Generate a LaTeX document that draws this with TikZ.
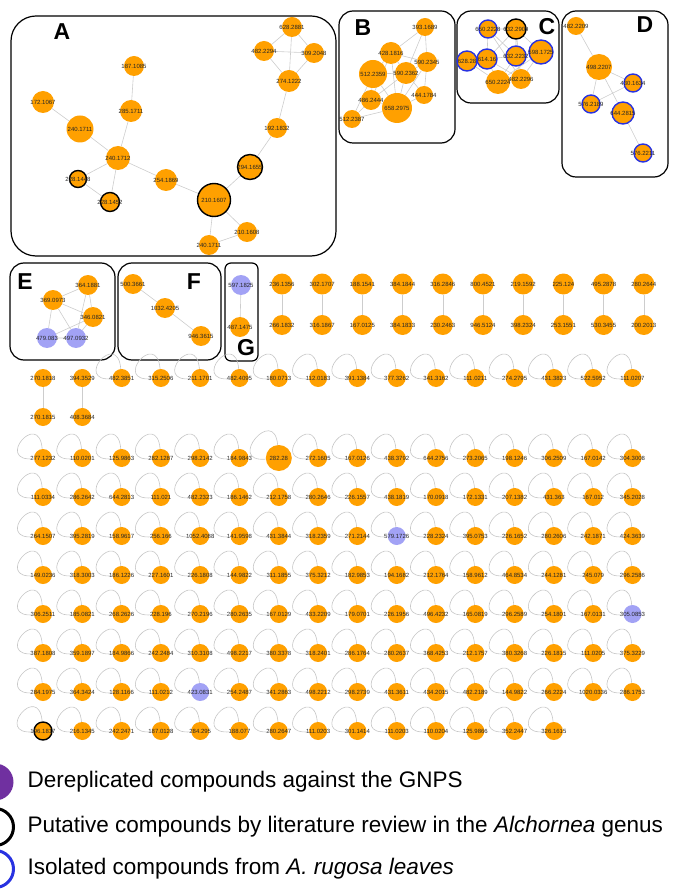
\documentclass[tikz,border=0pt]{standalone}
\usepackage{fontspec}
\setmainfont{Liberation Sans}
\usetikzlibrary{backgrounds}
\definecolor{cmpOrange}{RGB}{255,160,0}
\definecolor{gnpsLav}{RGB}{162,162,245}
\definecolor{isoBlue}{RGB}{40,50,225}
\definecolor{legPurple}{RGB}{112,48,160}
\definecolor{edgeGray}{RGB}{205,205,205}
\newcommand{\mz}[1]{\makebox[0pt]{#1}}

\begin{document}
\begin{tikzpicture}[x=1pt,y=-1pt,
  cmp/.style={circle,fill=cmpOrange,inner sep=0pt,minimum size=18pt,
    text=black!85,font=\fontsize{6}{7}\selectfont},
  bigcmp/.style={cmp,minimum size=26pt},
  gnps/.style={cmp,fill=gnpsLav},
  lit/.style={cmp,draw=black,line width=1.4pt},
  iso/.style={cmp,draw=isoBlue,line width=1.4pt},
  edge/.style={draw=edgeGray,line width=0.6pt},
  selfloop/.style={draw=gray!45,line width=0.6pt,out=95,in=185,distance=40pt},
  panel/.style={draw=black,line width=1.2pt,rounded corners=14pt},
  letter/.style={font=\fontsize{23}{27}\selectfont\bfseries},
  legtext/.style={anchor=west,font=\fontsize{22.5}{27}\selectfont},
  legdot/.style={circle,inner sep=0pt,minimum size=37pt}
]
\useasboundingbox (0,0) rectangle (677,890);

% ---- panel frames ----
\draw[panel,rounded corners=25pt] (11,16) rectangle (336,256);
\draw[panel] (339,11) rectangle (455,143);
\draw[panel] (457,11) rectangle (559,103);
\draw[panel] (562,11) rectangle (668,177);
\draw[panel] (10,263) rectangle (115,360);
\draw[panel] (118,263) rectangle (221,360);
\draw[panel,rounded corners=6pt] (225,263) rectangle (258,361);
\node[letter] (lA) at (62,32)  {A};
\node[letter] (lB) at (363,28) {B};
\node[letter] (lC) at (547,27) {C};
\node[letter] (lD) at (645,25) {D};
\node[letter] (lE) at (25,282) {E};
\node[letter] (lF) at (194,282) {F};
\node[letter] (lG) at (246,348) {G};

% ---- A ----
\node[cmp,minimum size=20pt] (a1)  at (292,27)  {\mz{628.2881}};
\node[cmp,minimum size=20pt] (a2)  at (264,51)  {\mz{482.2294}};
\node[cmp,minimum size=20pt] (a3)  at (314,53)  {\mz{309.2048}};
\node[cmp,minimum size=22pt] (a4)  at (289,81)  {\mz{274.1222}};
\node[cmp,minimum size=20pt] (a5)  at (277,128) {\mz{192.1832}};
\node[lit,minimum size=25pt] (a6)  at (250,167) {\mz{294.1655}};
\node[lit,minimum size=33pt] (a7)  at (214,200) {\mz{210.1607}};
\node[cmp,minimum size=20pt] (a8)  at (247,232) {\mz{210.1608}};
\node[cmp,minimum size=20pt] (a9)  at (209,245) {\mz{240.1711}};
\node[cmp,minimum size=22pt] (a10) at (166,180) {\mz{254.1869}};
\node[cmp,minimum size=24pt] (a11) at (118,158) {\mz{240.1712}};
\node[cmp,minimum size=22pt] (a12) at (131,111) {\mz{285.1711}};
\node[cmp,minimum size=20pt] (a13) at (134,66)  {\mz{187.1085}};
\node[cmp,minimum size=22pt] (a14) at (43,102)  {\mz{172.1067}};
\node[cmp,minimum size=27pt] (a15) at (80,129)  {\mz{240.1711}};
\node[lit,minimum size=17pt] (a16) at (78,179)  {\mz{228.1448}};
\node[lit,minimum size=19pt] (a17) at (110,202) {\mz{228.1452}};

% ---- B ----
\node[cmp]                   (b1) at (425,27)  {\mz{393.1689}};
\node[cmp,minimum size=22pt] (b2) at (391,53)  {\mz{428.1816}};
\node[cmp,minimum size=20pt] (b3) at (427,62)  {\mz{590.2345}};
\node[cmp,minimum size=28pt] (b4) at (373,74)  {\mz{512.2359}};
\node[cmp,minimum size=22pt] (b5) at (406,73)  {\mz{590.2362}};
\node[cmp]                   (b6) at (424,95)  {\mz{444.1784}};
\node[cmp,minimum size=20pt] (b7) at (371,100) {\mz{486.2444}};
\node[cmp,minimum size=30pt] (b8) at (397,108) {\mz{658.2975}};
\node[cmp]                   (b9) at (352,119) {\mz{512.2387}};

% ---- C ----
\node[iso]                   (c1) at (488,29) {\mz{650.2228}};
\node[lit,minimum size=20pt] (c2) at (516,29) {\mz{632.2909}};
\node[iso,minimum size=20pt] (c3) at (467,61) {\mz{628.28}};
\node[iso,minimum size=20pt] (c4) at (487,59) {\mz{614.16}};
\node[iso,minimum size=20pt] (c5) at (516,56) {\mz{632.2232}};
\node[iso,minimum size=24pt] (c6) at (541,52) {\mz{598.1725}};
\node[cmp,minimum size=24pt] (c7) at (498,82) {\mz{650.2224}};
\node[cmp,minimum size=20pt] (c8) at (521,79) {\mz{482.2296}};

% ---- D ----
\node[cmp]                   (d1) at (576,26)  {\mz{482.2209}};
\node[cmp,minimum size=26pt] (d2) at (599,67)  {\mz{498.2207}};
\node[iso]                   (d3) at (633,83)  {\mz{430.1634}};
\node[iso]                   (d4) at (591,104) {\mz{576.2189}};
\node[iso,minimum size=22pt] (d5) at (623,113) {\mz{644.2815}};
\node[iso]                   (d6) at (643,153) {\mz{576.2211}};

% ---- E, F, G ----
\node[cmp,minimum size=20pt]  (e1) at (88,285) {\mz{364.1881}};
\node[cmp,minimum size=20pt]  (e2) at (53,300) {\mz{369.0973}};
\node[cmp,minimum size=20pt]  (e3) at (93,317) {\mz{346.0821}};
\node[gnps,minimum size=20pt] (e4) at (47,338) {\mz{479.083}};
\node[gnps,minimum size=20pt] (e5) at (76,338) {\mz{497.0932}};
\node[cmp,minimum size=20pt]  (f1) at (133,284) {\mz{500.3661}};
\node[cmp,minimum size=20pt]  (f2) at (165,308) {\mz{1032.4205}};
\node[cmp,minimum size=20pt]  (f3) at (201,336) {\mz{946.3615}};
\node[gnps,minimum size=20pt] (g1) at (241,285) {\mz{597.1825}};
\node[cmp,minimum size=20pt]  (g2) at (240,327) {\mz{487.1475}};

% ---- network edges (behind the nodes) ----
\begin{scope}[on background layer]
\draw[edge] (a1)--(a2) (a1)--(a3) (a1)--(a4) (a2)--(a3) (a2)--(a4) (a3)--(a4)
  (a4)--(a5) (a5)--(a6) (a6)--(a7) (a7)--(a10) (a7)--(a8) (a7)--(a9) (a8)--(a9)
  (a10)--(a11) (a11)--(a12) (a12)--(a13) (a11)--(a15) (a15)--(a14)
  (a11)--(a16) (a11)--(a17) (a16)--(a17);
\draw[edge] (b1)--(b2) (b1)--(b3) (b1)--(b5) (b2)--(b3) (b2)--(b4) (b2)--(b5)
  (b2)--(b7) (b3)--(b5) (b3)--(b6) (b3)--(b8) (b4)--(b5) (b4)--(b7) (b4)--(b8)
  (b4)--(b9) (b5)--(b6) (b5)--(b7) (b5)--(b8) (b6)--(b8) (b7)--(b8) (b7)--(b9)
  (b8)--(b9) (b2)--(b8);
\draw[edge] (c1)--(c2) (c1)--(c4) (c1)--(c5) (c1)--(c8) (c2)--(c5) (c2)--(c6)
  (c2)--(c4) (c3)--(c4) (c3)--(c7) (c3)--(c5) (c4)--(c5) (c4)--(c7) (c4)--(c8)
  (c5)--(c6) (c5)--(c7) (c5)--(c8) (c6)--(c8) (c7)--(c8) (c6)--(c7) (c2)--(c8);
\draw[edge] (d1)--(d2) (d2)--(d3) (d2)--(d4) (d2)--(d5) (d3)--(d4) (d5)--(d6);
\draw[edge] (e1)--(e2) (e1)--(e3) (e1)--(e5) (e2)--(e3) (e2)--(e4) (e2)--(e5)
  (e3)--(e4) (e3)--(e5) (e4)--(e5);
\draw[edge] (f1)--(f2) (f2)--(f3) (g1)--(g2);
\end{scope}

% ---- linked pairs ----
\foreach \t/\b [count=\i] in {236.1356/266.1832,302.1707/316.1867,188.1541/167.0125,
    384.1844/384.1833,316.2846/230.2463,800.4521/946.5124,219.1592/398.2324,
    225.124/253.1551,495.2878/530.3455,280.2644/200.2013}{
  \node[cmp,minimum size=21pt] (pt-\i) at ({282+40.2*(\i-1)},284) {\mz{\t}};
  \node[cmp,minimum size=20pt] (pb-\i) at ({282+40.2*(\i-1)},325) {\mz{\b}};
  \draw[edge] (pt-\i)--(pb-\i);
}

% ---- Row 1 ----
\node[cmp] (r1-1)  at (43,378) {\mz{270.1818}};
\node[cmp] (r1-2)  at (82.3,378) {\mz{394.3529}};
\node[cmp] (r2-1)  at (43,417) {\mz{270.1815}};
\node[cmp] (r2-2)  at (82.3,417) {\mz{408.3684}};
\draw[edge] (r1-1)--(r2-1) (r1-2)--(r2-2);
\foreach \t [count=\i from 3] in {482.3851,315.2506,211.1701,482.4095,180.0713,
    112.0183,391.1384,377.3262,341.3162,111.0211,274.2795,431.3823,522.5952,111.0207}{
  \node[cmp] (r1-\i) at ({43+39.3*(\i-1)},378) {\mz{\t}};
  \draw[selfloop] (r1-\i) to (r1-\i);
}

% ---- self-loop rows ----
\foreach \t/\s [count=\i] in {277.1232/cmp,110.0201/cmp,125.9863/cmp,282.1287/cmp,
    298.2142/cmp,184.9843/cmp,282.28/bigcmp,272.1605/cmp,167.0126/cmp,438.3792/cmp,
    644.2756/cmp,273.2065/cmp,198.1246/cmp,306.2509/cmp,167.0142/cmp,304.3008/cmp}{
  \node[\s] (r3-\i) at ({43+39.3*(\i-1)},458) {\mz{\t}};
  \draw[selfloop] (r3-\i) to (r3-\i);
}
\foreach \t [count=\i] in {111.0334,286.2642,644.2813,111.021,482.2323,186.1462,
    212.1758,280.2646,226.1557,438.1819,170.0918,172.1331,207.1382,431.363,167.012,345.2028}{
  \node[cmp] (r4-\i) at ({43+39.3*(\i-1)},497) {\mz{\t}};
  \draw[selfloop] (r4-\i) to (r4-\i);
}
\foreach \t/\s [count=\i] in {264.1507/cmp,395.2819/cmp,158.9617/cmp,256.166/cmp,
    1052.4088/cmp,141.9598/cmp,431.3844/cmp,318.2359/cmp,271.2144/cmp,579.1726/gnps,
    228.2324/cmp,395.0753/cmp,226.1652/cmp,280.2606/cmp,242.1871/cmp,424.3639/cmp}{
  \node[\s] (r5-\i) at ({43+39.3*(\i-1)},536) {\mz{\t}};
  \draw[selfloop] (r5-\i) to (r5-\i);
}
\foreach \t [count=\i] in {149.0236,318.3003,186.1226,227.1601,226.1808,144.9822,
    311.1855,375.3212,182.9853,194.1682,212.1764,158.9612,464.8534,244.1281,245.079,296.2586}{
  \node[cmp] (r6-\i) at ({43+39.3*(\i-1)},575) {\mz{\t}};
  \draw[selfloop] (r6-\i) to (r6-\i);
}
\foreach \t/\s [count=\i] in {306.2511/cmp,185.0821/cmp,268.2626/cmp,228.196/cmp,
    270.2196/cmp,280.2635/cmp,167.0129/cmp,433.2209/cmp,179.0701/cmp,226.1956/cmp,
    496.4232/cmp,165.0819/cmp,296.2589/cmp,254.1801/cmp,167.0131/cmp,305.0853/gnps}{
  \node[\s] (r7-\i) at ({43+39.3*(\i-1)},614) {\mz{\t}};
  \draw[selfloop] (r7-\i) to (r7-\i);
}
\foreach \t [count=\i] in {387.1808,359.1897,184.9866,242.2484,310.3108,498.2217,
    380.3378,318.2401,286.1764,280.2637,368.4253,212.1757,380.3268,226.1815,111.0205,375.3229}{
  \node[cmp] (r8-\i) at ({43+39.3*(\i-1)},653) {\mz{\t}};
  \draw[selfloop] (r8-\i) to (r8-\i);
}
\foreach \t/\s [count=\i] in {284.1975/cmp,364.3424/cmp,128.1166/cmp,111.0212/cmp,
    423.0831/gnps,254.2487/cmp,341.2863/cmp,498.2212/cmp,298.2739/cmp,431.3611/cmp,
    434.2015/cmp,482.2189/cmp,144.9822/cmp,266.2224/cmp,1020.0336/cmp,286.1753/cmp}{
  \node[\s] (r9-\i) at ({43+39.3*(\i-1)},692) {\mz{\t}};
  \draw[selfloop] (r9-\i) to (r9-\i);
}
\foreach \t/\s [count=\i] in {196.1817/lit,216.1345/cmp,242.2471/cmp,187.0128/cmp,
    284.295/cmp,188.077/cmp,280.2647/cmp,111.0203/cmp,301.1414/cmp,111.0203/cmp,
    110.0204/cmp,125.9866/cmp,352.2447/cmp,326.1615/cmp}{
  \node[\s] (r10-\i) at ({43+39.3*(\i-1)},731) {\mz{\t}};
  \draw[selfloop] (r10-\i) to (r10-\i);
}

% ---- legend ----
\node[legdot,fill=legPurple] (k1) at (-5,782) {};
\node[legdot,draw=black,line width=3pt] (k2) at (-5,827) {};
\node[legdot,draw=isoBlue,line width=3pt] (k3) at (-5,869) {};
\node[legtext] (t1) at (24,782) {Dereplicated compounds against the GNPS};
\node[legtext] (t2) at (24,827) {Putative compounds by literature review in the \textit{Alchornea} genus};
\node[legtext] (t3) at (24,869) {Isolated compounds from \textit{A. rugosa leaves}};
\end{tikzpicture}
\end{document}
